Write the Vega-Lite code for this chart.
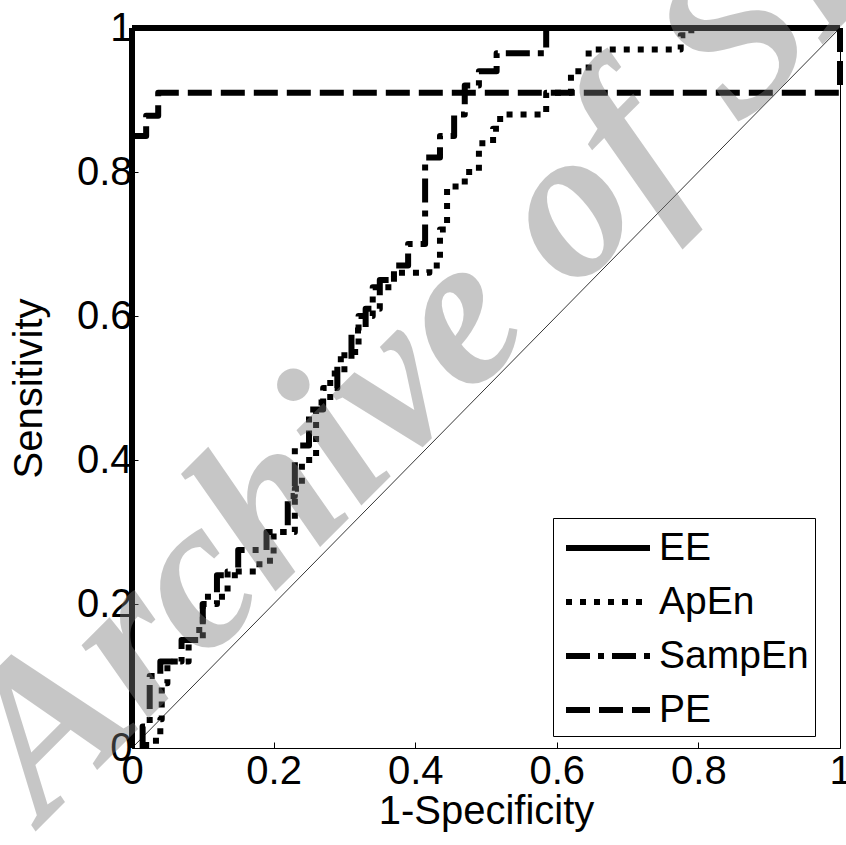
{
  "$schema": "https://vega.github.io/schema/vega-lite/v6.json",
  "width": 708,
  "height": 720,
  "autosize": "none",
  "padding": {"left": 132, "top": 28, "right": 6, "bottom": 97},
  "background": "white",
  "config": {
    "view": {"stroke": "black", "strokeWidth": 1},
    "font": "Liberation Sans",
    "axis": {
      "domain": false,
      "grid": false,
      "tickColor": "black",
      "tickSize": -6,
      "tickWidth": 1,
      "labelFlush": false,
      "labelColor": "black",
      "labelFont": "Liberation Sans",
      "labelFontSize": 40,
      "titleFont": "Liberation Sans",
      "titleFontSize": 40,
      "titleFontWeight": "normal",
      "titleColor": "black"
    },
    "legend": {
      "orient": "none",
      "legendX": 421,
      "legendY": 490,
      "strokeColor": "black",
      "fillColor": "white",
      "padding": 6,
      "labelFont": "Liberation Sans",
      "labelFontSize": 39,
      "labelColor": "black",
      "symbolType": "M-2,0H2",
      "symbolSize": 1764,
      "symbolStrokeWidth": 6,
      "symbolStrokeColor": "black",
      "symbolFillColor": "transparent",
      "symbolOffset": 25,
      "labelOffset": 27,
      "rowPadding": 10
    }
  },
  "datasets": {
    "curves": [
      {"series": "EE", "i": 0, "fpr": 0, "tpr": 0},
      {"series": "EE", "i": 1, "fpr": 0, "tpr": 1},
      {"series": "EE", "i": 2, "fpr": 1, "tpr": 1},

      {"series": "PE", "i": 0, "fpr": 0, "tpr": 0.85},
      {"series": "PE", "i": 1, "fpr": 0.02, "tpr": 0.85},
      {"series": "PE", "i": 2, "fpr": 0.02, "tpr": 0.878},
      {"series": "PE", "i": 3, "fpr": 0.037, "tpr": 0.878},
      {"series": "PE", "i": 4, "fpr": 0.037, "tpr": 0.91},
      {"series": "PE", "i": 5, "fpr": 1, "tpr": 0.91},
      {"series": "PE", "i": 6, "fpr": 1, "tpr": 1},

      {"series": "SampEn", "i": 0, "fpr": 0.015, "tpr": 0},
      {"series": "SampEn", "i": 1, "fpr": 0.015, "tpr": 0.03},
      {"series": "SampEn", "i": 2, "fpr": 0.025, "tpr": 0.03},
      {"series": "SampEn", "i": 3, "fpr": 0.025, "tpr": 0.1},
      {"series": "SampEn", "i": 4, "fpr": 0.04, "tpr": 0.1},
      {"series": "SampEn", "i": 5, "fpr": 0.04, "tpr": 0.12},
      {"series": "SampEn", "i": 6, "fpr": 0.07, "tpr": 0.12},
      {"series": "SampEn", "i": 7, "fpr": 0.07, "tpr": 0.15},
      {"series": "SampEn", "i": 8, "fpr": 0.1, "tpr": 0.15},
      {"series": "SampEn", "i": 9, "fpr": 0.1, "tpr": 0.2},
      {"series": "SampEn", "i": 10, "fpr": 0.12, "tpr": 0.2},
      {"series": "SampEn", "i": 11, "fpr": 0.12, "tpr": 0.24},
      {"series": "SampEn", "i": 12, "fpr": 0.15, "tpr": 0.24},
      {"series": "SampEn", "i": 13, "fpr": 0.15, "tpr": 0.275},
      {"series": "SampEn", "i": 14, "fpr": 0.19, "tpr": 0.275},
      {"series": "SampEn", "i": 15, "fpr": 0.19, "tpr": 0.3},
      {"series": "SampEn", "i": 16, "fpr": 0.22, "tpr": 0.3},
      {"series": "SampEn", "i": 17, "fpr": 0.22, "tpr": 0.35},
      {"series": "SampEn", "i": 18, "fpr": 0.23, "tpr": 0.35},
      {"series": "SampEn", "i": 19, "fpr": 0.23, "tpr": 0.42},
      {"series": "SampEn", "i": 20, "fpr": 0.25, "tpr": 0.42},
      {"series": "SampEn", "i": 21, "fpr": 0.25, "tpr": 0.47},
      {"series": "SampEn", "i": 22, "fpr": 0.27, "tpr": 0.47},
      {"series": "SampEn", "i": 23, "fpr": 0.27, "tpr": 0.5},
      {"series": "SampEn", "i": 24, "fpr": 0.29, "tpr": 0.5},
      {"series": "SampEn", "i": 25, "fpr": 0.29, "tpr": 0.54},
      {"series": "SampEn", "i": 26, "fpr": 0.31, "tpr": 0.54},
      {"series": "SampEn", "i": 27, "fpr": 0.31, "tpr": 0.58},
      {"series": "SampEn", "i": 28, "fpr": 0.33, "tpr": 0.58},
      {"series": "SampEn", "i": 29, "fpr": 0.33, "tpr": 0.61},
      {"series": "SampEn", "i": 30, "fpr": 0.35, "tpr": 0.61},
      {"series": "SampEn", "i": 31, "fpr": 0.35, "tpr": 0.65},
      {"series": "SampEn", "i": 32, "fpr": 0.37, "tpr": 0.65},
      {"series": "SampEn", "i": 33, "fpr": 0.37, "tpr": 0.67},
      {"series": "SampEn", "i": 34, "fpr": 0.39, "tpr": 0.67},
      {"series": "SampEn", "i": 35, "fpr": 0.39, "tpr": 0.7},
      {"series": "SampEn", "i": 36, "fpr": 0.414, "tpr": 0.7},
      {"series": "SampEn", "i": 37, "fpr": 0.414, "tpr": 0.82},
      {"series": "SampEn", "i": 38, "fpr": 0.435, "tpr": 0.82},
      {"series": "SampEn", "i": 39, "fpr": 0.435, "tpr": 0.85},
      {"series": "SampEn", "i": 40, "fpr": 0.455, "tpr": 0.85},
      {"series": "SampEn", "i": 41, "fpr": 0.455, "tpr": 0.88},
      {"series": "SampEn", "i": 42, "fpr": 0.47, "tpr": 0.88},
      {"series": "SampEn", "i": 43, "fpr": 0.47, "tpr": 0.92},
      {"series": "SampEn", "i": 44, "fpr": 0.49, "tpr": 0.92},
      {"series": "SampEn", "i": 45, "fpr": 0.49, "tpr": 0.94},
      {"series": "SampEn", "i": 46, "fpr": 0.515, "tpr": 0.94},
      {"series": "SampEn", "i": 47, "fpr": 0.515, "tpr": 0.965},
      {"series": "SampEn", "i": 48, "fpr": 0.585, "tpr": 0.965},
      {"series": "SampEn", "i": 49, "fpr": 0.585, "tpr": 1},
      {"series": "SampEn", "i": 50, "fpr": 1, "tpr": 1},

      {"series": "ApEn", "i": 0, "fpr": 0.02, "tpr": 0},
      {"series": "ApEn", "i": 1, "fpr": 0.02, "tpr": 0.01},
      {"series": "ApEn", "i": 2, "fpr": 0.04, "tpr": 0.01},
      {"series": "ApEn", "i": 3, "fpr": 0.04, "tpr": 0.04},
      {"series": "ApEn", "i": 4, "fpr": 0.042, "tpr": 0.04},
      {"series": "ApEn", "i": 5, "fpr": 0.042, "tpr": 0.09},
      {"series": "ApEn", "i": 6, "fpr": 0.05, "tpr": 0.09},
      {"series": "ApEn", "i": 7, "fpr": 0.05, "tpr": 0.12},
      {"series": "ApEn", "i": 8, "fpr": 0.08, "tpr": 0.12},
      {"series": "ApEn", "i": 9, "fpr": 0.08, "tpr": 0.15},
      {"series": "ApEn", "i": 10, "fpr": 0.095, "tpr": 0.15},
      {"series": "ApEn", "i": 11, "fpr": 0.095, "tpr": 0.17},
      {"series": "ApEn", "i": 12, "fpr": 0.1, "tpr": 0.17},
      {"series": "ApEn", "i": 13, "fpr": 0.1, "tpr": 0.21},
      {"series": "ApEn", "i": 14, "fpr": 0.135, "tpr": 0.21},
      {"series": "ApEn", "i": 15, "fpr": 0.135, "tpr": 0.245},
      {"series": "ApEn", "i": 16, "fpr": 0.18, "tpr": 0.245},
      {"series": "ApEn", "i": 17, "fpr": 0.18, "tpr": 0.26},
      {"series": "ApEn", "i": 18, "fpr": 0.2, "tpr": 0.26},
      {"series": "ApEn", "i": 19, "fpr": 0.2, "tpr": 0.3},
      {"series": "ApEn", "i": 20, "fpr": 0.23, "tpr": 0.3},
      {"series": "ApEn", "i": 21, "fpr": 0.23, "tpr": 0.36},
      {"series": "ApEn", "i": 22, "fpr": 0.24, "tpr": 0.36},
      {"series": "ApEn", "i": 23, "fpr": 0.24, "tpr": 0.4},
      {"series": "ApEn", "i": 24, "fpr": 0.26, "tpr": 0.4},
      {"series": "ApEn", "i": 25, "fpr": 0.26, "tpr": 0.48},
      {"series": "ApEn", "i": 26, "fpr": 0.28, "tpr": 0.48},
      {"series": "ApEn", "i": 27, "fpr": 0.28, "tpr": 0.52},
      {"series": "ApEn", "i": 28, "fpr": 0.3, "tpr": 0.52},
      {"series": "ApEn", "i": 29, "fpr": 0.3, "tpr": 0.55},
      {"series": "ApEn", "i": 30, "fpr": 0.32, "tpr": 0.55},
      {"series": "ApEn", "i": 31, "fpr": 0.32, "tpr": 0.6},
      {"series": "ApEn", "i": 32, "fpr": 0.34, "tpr": 0.6},
      {"series": "ApEn", "i": 33, "fpr": 0.34, "tpr": 0.64},
      {"series": "ApEn", "i": 34, "fpr": 0.37, "tpr": 0.64},
      {"series": "ApEn", "i": 35, "fpr": 0.37, "tpr": 0.66},
      {"series": "ApEn", "i": 36, "fpr": 0.42, "tpr": 0.66},
      {"series": "ApEn", "i": 37, "fpr": 0.42, "tpr": 0.67},
      {"series": "ApEn", "i": 38, "fpr": 0.435, "tpr": 0.67},
      {"series": "ApEn", "i": 39, "fpr": 0.435, "tpr": 0.72},
      {"series": "ApEn", "i": 40, "fpr": 0.445, "tpr": 0.72},
      {"series": "ApEn", "i": 41, "fpr": 0.445, "tpr": 0.78},
      {"series": "ApEn", "i": 42, "fpr": 0.47, "tpr": 0.78},
      {"series": "ApEn", "i": 43, "fpr": 0.47, "tpr": 0.8},
      {"series": "ApEn", "i": 44, "fpr": 0.49, "tpr": 0.8},
      {"series": "ApEn", "i": 45, "fpr": 0.49, "tpr": 0.84},
      {"series": "ApEn", "i": 46, "fpr": 0.51, "tpr": 0.84},
      {"series": "ApEn", "i": 47, "fpr": 0.51, "tpr": 0.86},
      {"series": "ApEn", "i": 48, "fpr": 0.52, "tpr": 0.86},
      {"series": "ApEn", "i": 49, "fpr": 0.52, "tpr": 0.88},
      {"series": "ApEn", "i": 50, "fpr": 0.585, "tpr": 0.88},
      {"series": "ApEn", "i": 51, "fpr": 0.585, "tpr": 0.91},
      {"series": "ApEn", "i": 52, "fpr": 0.62, "tpr": 0.91},
      {"series": "ApEn", "i": 53, "fpr": 0.62, "tpr": 0.94},
      {"series": "ApEn", "i": 54, "fpr": 0.645, "tpr": 0.94},
      {"series": "ApEn", "i": 55, "fpr": 0.645, "tpr": 0.97},
      {"series": "ApEn", "i": 56, "fpr": 0.775, "tpr": 0.97},
      {"series": "ApEn", "i": 57, "fpr": 0.775, "tpr": 0.99},
      {"series": "ApEn", "i": 58, "fpr": 0.79, "tpr": 0.99},
      {"series": "ApEn", "i": 59, "fpr": 0.79, "tpr": 1},
      {"series": "ApEn", "i": 60, "fpr": 1, "tpr": 1}
    ],
    "diag": [
      {"fpr": 0, "tpr": 0},
      {"fpr": 1, "tpr": 1}
    ],
    "mark": [
      {"label": "Archive of SID", "fpr": -0.125, "tpr": -0.105}
    ]
  },
  "layer": [
    {
      "data": {"name": "diag"},
      "mark": {"type": "line", "color": "black", "strokeWidth": 0.8},
      "encoding": {
        "x": {"field": "fpr", "type": "quantitative", "scale": {"domain": [0, 1]},
              "axis": {"values": [0, 0.2, 0.4, 0.6, 0.8, 1], "format": "~g", "title": "1-Specificity", "labelPadding": 9, "titlePadding": 0}},
        "y": {"field": "tpr", "type": "quantitative", "scale": {"domain": [0, 1]},
              "axis": {"values": [0, 0.2, 0.4, 0.6, 0.8, 1], "format": "~g", "title": "Sensitivity", "labelPadding": 6, "titlePadding": 27}}
      }
    },
    {
      "data": {"name": "curves"},
      "mark": {"type": "line", "color": "black", "strokeWidth": 6, "strokeCap": "butt", "strokeJoin": "round", "clip": false},
      "encoding": {
        "x": {"field": "fpr", "type": "quantitative"},
        "y": {"field": "tpr", "type": "quantitative"},
        "order": {"field": "i", "type": "quantitative"},
        "strokeDash": {
          "field": "series", "type": "nominal",
          "scale": {"domain": ["EE", "ApEn", "SampEn", "PE"], "range": [[1, 0], [6, 8], [24, 8, 6, 8], [24, 9]]},
          "legend": {"title": null}
        }
      }
    },
    {
      "data": {"name": "mark"},
      "mark": {"type": "text", "font": "Liberation Serif", "fontStyle": "italic", "fontWeight": "bold", "fontSize": 216, "angle": 315, "color": "#7a7a7a", "opacity": 0.42, "align": "left", "baseline": "alphabetic"},
      "encoding": {
        "x": {"field": "fpr", "type": "quantitative"},
        "y": {"field": "tpr", "type": "quantitative"},
        "text": {"field": "label"}
      }
    }
  ]
}
